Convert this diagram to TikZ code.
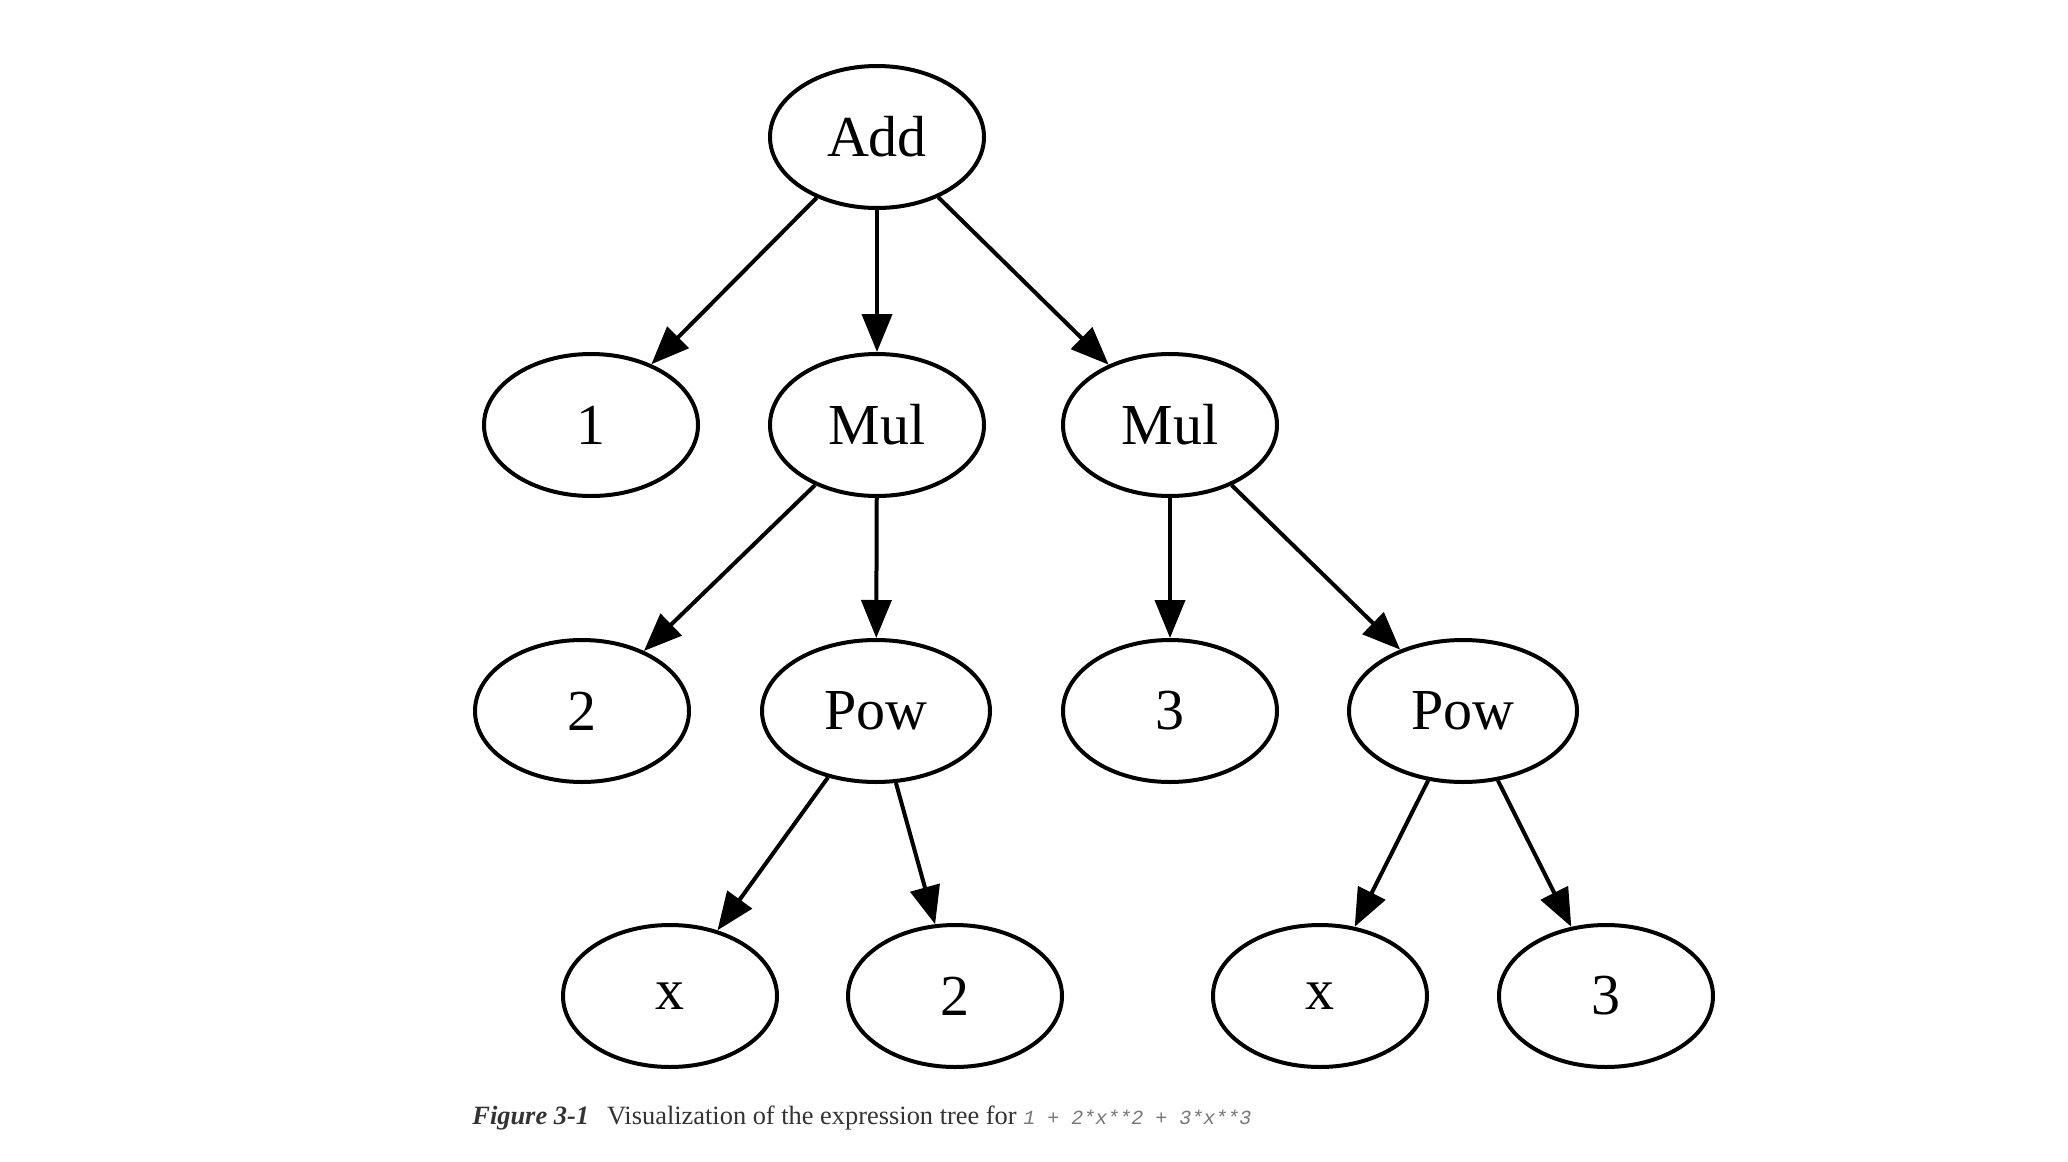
\documentclass[tikz,border=0pt]{standalone}
\usepackage{fontspec}
\setmainfont{Liberation Serif}
\setmonofont{Liberation Mono}
\usetikzlibrary{arrows.meta,shapes.geometric}
\definecolor{captext}{HTML}{333333}
\definecolor{codetext}{HTML}{777777}
\tikzset{
  tnode/.style={ellipse, draw=black, line width=2pt, minimum width=107pt, minimum height=71pt, inner sep=0pt, font=\fontsize{29}{30}\selectfont},
  wnode/.style={tnode, minimum width=114pt},
  tedge/.style={line width=2pt, -{Triangle[length=19pt,width=15pt]}, shorten >=0pt},
}
\begin{document}
\begin{tikzpicture}[x=0.5pt,y=-0.5pt]
\useasboundingbox (0,0) rectangle (2068,1162);
\fill[white] (0,0) rectangle (2068,1162);
\node[tnode] (add) at (877,137) {Add};
\node[tnode] (one) at (591,425) {1};
\node[tnode] (mula) at (877,425) {Mul};
\node[tnode] (mulb) at (1170,425) {Mul};
\node[tnode] (two) at (582,711) {2};
\node[wnode] (powa) at (876,711) {Pow};
\node[tnode] (three) at (1170,711) {3};
\node[wnode] (powb) at (1463,711) {Pow};
\node[tnode] (xa) at (670,996) {x};
\node[tnode] (twob) at (955,996) {2};
\node[tnode] (xb) at (1320,996) {x};
\node[tnode] (threeb) at (1606,996) {3};
\draw[tedge] (add) -- (one);
\draw[tedge] (add) -- (mula);
\draw[tedge] (add) -- (mulb);
\draw[tedge] (mula) -- (two);
\draw[tedge] (mula) -- (powa);
\draw[tedge] (mulb) -- (three);
\draw[tedge] (mulb) -- (powb);
\draw[tedge] (powa) -- (xa);
\draw[tedge] (powa) -- (twob);
\draw[tedge] (powb) -- (xb);
\draw[tedge] (powb) -- (threeb);
\node[anchor=base west, inner sep=0pt, text=captext, font=\fontsize{13.2}{15}\selectfont] (cap) at (472,1124) {\textbf{\textit{Figure 3-1}}\hspace{9pt}Visualization of the expression tree for {\color{codetext}\ttfamily\itshape\fontsize{10}{12}\selectfont 1 + 2*x**2 + 3*x**3}};
\end{tikzpicture}
\end{document}
